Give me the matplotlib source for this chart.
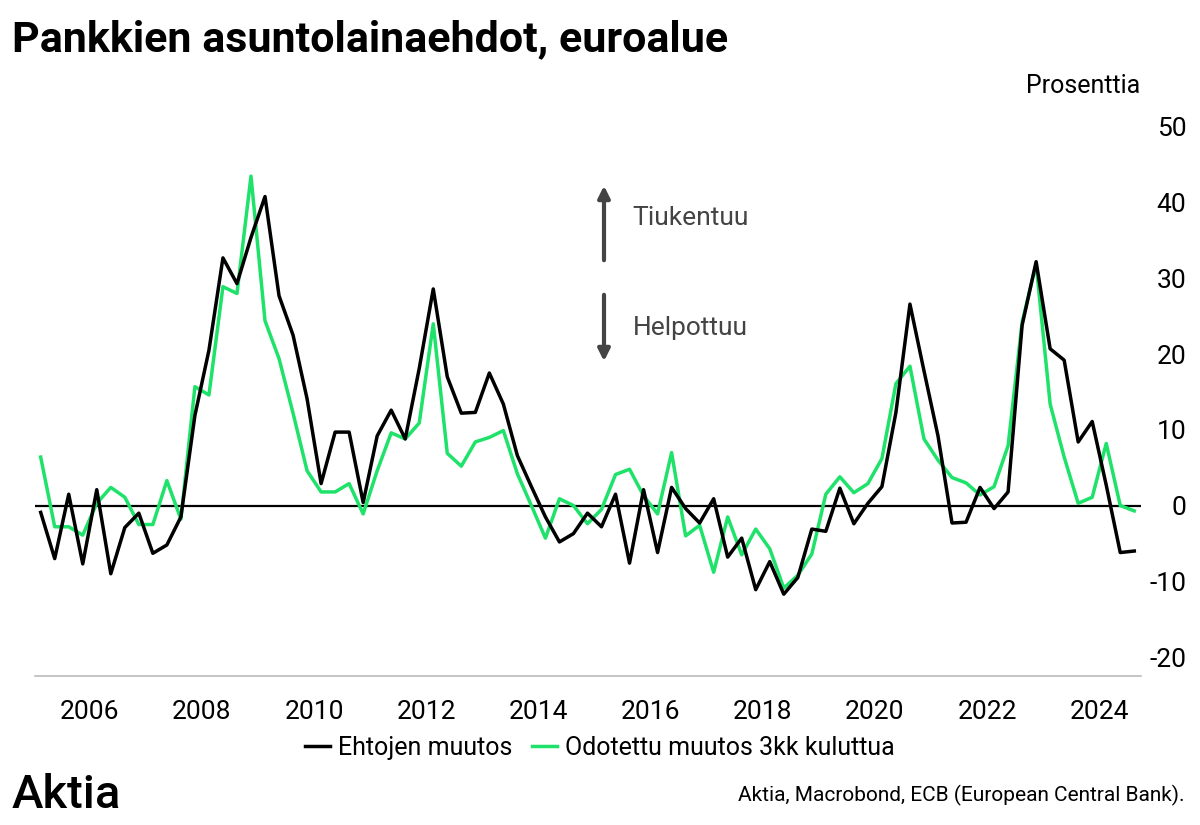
import numpy as np
import matplotlib
matplotlib.use('Agg')
import matplotlib.pyplot as plt

plt.rcParams['font.family'] = ['Roboto', 'DejaVu Sans']
plt.rcParams['axes.unicode_minus'] = False

# quarterly data 2005Q1 - 2024Q3, percent
ehtojen_muutos = [-0.9, -7.0, 1.5, -7.7, 2.1, -9.0, -2.9, -1.0,
                  -6.3, -5.2, -1.5, 11.9, 20.5, 32.7, 29.3, 35.4,
                  40.8, 27.7, 22.5, 14.1, 2.9, 9.7, 9.7, 0.4,
                  9.2, 12.6, 8.8, 18.1, 28.6, 17.0, 12.2, 12.3,
                  17.5, 13.4, 6.6, 2.5, -1.5, -4.8, -3.7, -1.0,
                  -2.8, 1.5, -7.6, 2.1, -6.2, 2.4, -0.4, -2.3,
                  0.9, -6.8, -4.3, -11.1, -7.4, -11.7, -9.5, -3.1,
                  -3.4, 2.3, -2.4, 0.3, 2.5, 12.3, 26.6, 17.8,
                  9.2, -2.3, -2.2, 2.4, -0.4, 1.8, 23.8, 32.2,
                  20.7, 19.2, 8.4, 11.1, 2.7, -6.2, -6.0]
odotettu_muutos = [6.4, -2.8, -2.8, -3.9, 0.3, 2.4, 1.1, -2.5,
                   -2.5, 3.3, -1.8, 15.7, 14.6, 28.9, 28.0, 43.5,
                   24.4, 19.4, 12.2, 4.6, 1.8, 1.8, 2.9, -1.1,
                   4.6, 9.6, 8.8, 10.9, 24.0, 6.9, 5.2, 8.4,
                   9.0, 9.9, 4.2, 0.0, -4.3, 0.9, 0.0, -2.4,
                   -0.5, 4.1, 4.8, 1.3, -1.1, 7.0, -4.0, -2.6,
                   -8.8, -1.5, -6.5, -3.1, -5.7, -10.9, -9.2, -6.4,
                   1.5, 3.8, 1.7, 2.9, 6.2, 16.1, 18.4, 8.8,
                   6.0, 3.7, 3.0, 1.4, 2.5, 7.9, 24.2, 31.9,
                   13.4, 6.4, 0.3, 1.1, 8.2, 0.0, -0.7]
x_years = [2006, 2008, 2010, 2012, 2014, 2016, 2018, 2020, 2022, 2024]
y_ticks = [-20, -10, 0, 10, 20, 30, 40, 50]

t = 2005.125 + 0.25 * np.arange(len(ehtojen_muutos))

fig = plt.figure(figsize=(12, 8.25), dpi=100)
ax = fig.add_axes([0.029, 0.1806, 0.9216, 0.684])

ax.axhline(0, color='black', lw=1.6, zorder=1)
ax.plot(t, odotettu_muutos, color='#1ee26a', lw=2.5, zorder=2,
        label='Odotettu muutos 3kk kuluttua')
ax.plot(t, ehtojen_muutos, color='black', lw=2.5, zorder=3,
        label='Ehtojen muutos')

ax.set_xlim(2005.02, 2024.74)
ax.set_ylim(-22.5, 52)

for s in ['top', 'left', 'right']:
    ax.spines[s].set_visible(False)
ax.spines['bottom'].set_color('#bbbbbb')
ax.spines['bottom'].set_linewidth(1.2)

ax.set_xticks(x_years)
ax.set_xticklabels([str(y) for y in x_years])
ax.set_yticks(y_ticks)
ax.yaxis.tick_right()
ax.tick_params(axis='both', length=0, labelsize=19)
ax.tick_params(axis='x', pad=17)
ax.tick_params(axis='y', pad=33)
for lab in ax.get_yticklabels():
    lab.set_horizontalalignment('right')

# annotations
fig.text(1140/1200, 1-86/825, 'Prosenttia', ha='right', va='center', fontsize=18)
ax.annotate('', xy=(604/1200, 1-183/825), xytext=(604/1200, 1-263/825),
            xycoords='figure fraction', textcoords='figure fraction',
            arrowprops=dict(arrowstyle='-|>,head_width=0.35,head_length=0.7', color='#444444', lw=3))
ax.annotate('', xy=(604/1200, 1-364/825), xytext=(604/1200, 1-292/825),
            xycoords='figure fraction', textcoords='figure fraction',
            arrowprops=dict(arrowstyle='-|>,head_width=0.35,head_length=0.7', color='#444444', lw=3))
fig.text(632/1200, 1-218/825, 'Tiukentuu', ha='left', va='center', fontsize=19,
         color='#444444')
fig.text(633/1200, 1-328/825, 'Helpottuu', ha='left', va='center', fontsize=19,
         color='#444444')

fig.text(12/1200, 1-40/825, 'Pankkien asuntolainaehdot, euroalue', ha='left', va='center',
         fontsize=31, fontweight='bold')

handles, labels = ax.get_legend_handles_labels()
fig.legend(handles[::-1], labels[::-1], loc='center', bbox_to_anchor=(0.5, 1-748/825),
           ncol=2, frameon=False, fontsize=18, handlelength=1.0, handletextpad=0.3,
           columnspacing=0.8)

fig.text(12/1200, 1-795/825, 'Aktia', ha='left', va='center', fontsize=34, fontweight='medium')
fig.text(1185/1200, 1-795/825, 'Aktia, Macrobond, ECB (European Central Bank).', ha='right',
         va='center', fontsize=15)

plt.savefig('out.png', dpi=100)
